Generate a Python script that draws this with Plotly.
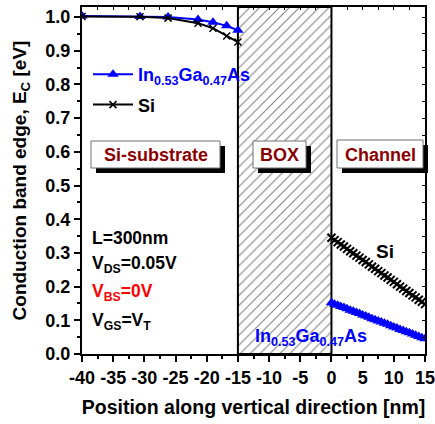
import plotly.graph_objects as go

# ---- data ----
sub_x = [-40, -30.7, -26.2, -21.4, -19.0, -16.8, -15.0]
sub_ingaas = [1.003, 1.002, 1.000, 0.993, 0.985, 0.974, 0.961]
sub_si = [1.002, 1.001, 0.997, 0.982, 0.967, 0.944, 0.926]

ch_x = [0, 0.5, 1, 1.5, 2, 2.5, 3, 3.5, 4, 4.5, 5, 5.5, 6, 6.5, 7, 7.5,
        8, 8.5, 9, 9.5, 10, 10.5, 11, 11.5, 12, 12.5, 13, 13.5, 14, 14.5, 15]
ch_si = [0.345, 0.338, 0.332, 0.325, 0.319, 0.312, 0.305, 0.299, 0.292, 0.286,
         0.279, 0.273, 0.266, 0.259, 0.253, 0.246, 0.240, 0.233, 0.227, 0.220,
         0.214, 0.207, 0.200, 0.194, 0.187, 0.181, 0.174, 0.168, 0.161, 0.155, 0.148]
ch_ingaas = [0.152, 0.148, 0.145, 0.141, 0.138, 0.134, 0.130, 0.127, 0.123, 0.120,
             0.116, 0.113, 0.109, 0.105, 0.102, 0.098, 0.095, 0.091, 0.088, 0.084,
             0.080, 0.077, 0.073, 0.070, 0.066, 0.063, 0.059, 0.056, 0.052, 0.048, 0.045]

box_x = [-15, 0, 0, -15, -15]
box_y = [0, 0, 1.03, 1.03, 0]

x_ticks = [-40, -35, -30, -25, -20, -15, -10, -5, 0, 5, 10, 15]
y_ticks = [0.0, 0.1, 0.2, 0.3, 0.4, 0.5, 0.6, 0.7, 0.8, 0.9, 1.0]

FONT = "Liberation Sans"
BLUE = "#0000FF"
DARKRED = "#8B0000"

fig = go.Figure()

# hatched BOX region
fig.add_trace(go.Scatter(
    x=box_x, y=box_y, mode="lines", fill="toself",
    fillcolor="rgba(255,255,255,0)",
    fillpattern=dict(shape="/", fgcolor="black", bgcolor="white", size=7, solidity=0.15),
    line=dict(color="black", width=2), showlegend=False, hoverinfo="skip"))

fig.add_trace(go.Scatter(
    x=sub_x, y=sub_ingaas, mode="lines+markers", legendgroup="a",
    name="<span style='color:#0000FF'>In<sub>0.53</sub>Ga<sub>0.47</sub>As</span>",
    line=dict(color=BLUE, width=2),
    marker=dict(symbol="triangle-up", size=10, color=BLUE)))
fig.add_trace(go.Scatter(
    x=sub_x, y=sub_si, mode="lines+markers", name="Si", legendgroup="b",
    line=dict(color="black", width=2),
    marker=dict(symbol="x-thin", size=7, color="black", line=dict(color="black", width=1.5))))

fig.add_trace(go.Scatter(
    x=ch_x, y=ch_ingaas, mode="lines+markers", showlegend=False,
    line=dict(color=BLUE, width=2),
    marker=dict(symbol="triangle-up", size=10, color=BLUE)))
fig.add_trace(go.Scatter(
    x=ch_x, y=ch_si, mode="lines+markers", showlegend=False,
    line=dict(color="black", width=2),
    marker=dict(symbol="x-thin", size=8, color="black", line=dict(color="black", width=2))))

# layout geometry (pixels)
L, R, T, B = 82, 10, 7, 70
W, H = 435, 424
PW, PH = W - L - R, H - T - B


def px(xp):
    return (xp - L) / PW


def py(yp):
    return (H - B - yp) / PH


shapes = []
annotations = []

for (x0, x1, y0, y1, label) in [(91, 220, 141, 168, "Si-substrate"),
                                 (253, 306, 141, 168, "BOX"),
                                 (337, 423, 140, 168, "Channel")]:
    shapes.append(dict(type="rect", xref="paper", yref="paper",
                       x0=px(x0 + 5), x1=px(x1 + 5), y0=py(y1 + 5), y1=py(y0 + 5),
                       fillcolor="black", line=dict(width=0), layer="above"))
    shapes.append(dict(type="rect", xref="paper", yref="paper",
                       x0=px(x0), x1=px(x1), y0=py(y1), y1=py(y0),
                       fillcolor="white", line=dict(color="#707070", width=1), layer="above"))
    annotations.append(dict(xref="paper", yref="paper", x=px((x0 + x1) / 2), y=py((y0 + y1) / 2 + 1),
                            xanchor="center", yanchor="middle",
                            text=f"<b>{label}</b>", showarrow=False,
                            font=dict(family=FONT, size=18, color=DARKRED)))

param_lines = [("L=300nm", "black", 238),
               ("V<sub>DS</sub>=0.05V", "black", 264),
               ("V<sub>BS</sub>=0V", "red", 292),
               ("V<sub>GS</sub>=V<sub>T</sub>", "black", 321)]
for txt, col, yy in param_lines:
    annotations.append(dict(xref="paper", yref="paper", x=px(90), y=py(yy),
                            xanchor="left", yanchor="middle",
                            text=f"<b>{txt}</b>", showarrow=False,
                            font=dict(family=FONT, size=17.5, color=col)))

annotations.append(dict(xref="paper", yref="paper", x=px(385), y=py(251),
                        xanchor="center", yanchor="middle",
                        text="<b>Si</b>", showarrow=False,
                        font=dict(family=FONT, size=19, color="black")))
annotations.append(dict(xref="paper", yref="paper", x=px(311), y=py(337),
                        xanchor="center", yanchor="middle",
                        text="<b>In<sub>0.53</sub>Ga<sub>0.47</sub>As</b>", showarrow=False,
                        font=dict(family=FONT, size=18, color=BLUE)))

line_common = dict(showline=True, linecolor="black", linewidth=2, showgrid=False,
                   zeroline=False, ticks="outside", tickwidth=1.5, ticklen=6,
                   tickcolor="black", ticklabeloverflow="allow", automargin=False)

fig.update_layout(
    width=W, height=H,
    margin=dict(l=L, r=R, t=T, b=B, autoexpand=False),
    plot_bgcolor="white", paper_bgcolor="white",
    font=dict(family=FONT, color="black"),
    shapes=shapes, annotations=annotations,
    legend=dict(x=px(88), y=py(56), xanchor="left", yanchor="top",
                bgcolor="rgba(255,255,255,0)",
                font=dict(family=FONT, size=18, color="black", weight="bold"),
                tracegroupgap=4, itemwidth=40),
    xaxis=dict(range=[-40, 15], tickvals=x_ticks, ticktext=[str(v) for v in x_ticks],
               tickfont=dict(family=FONT, size=18, color="black", weight="bold"),
               minor=dict(dtick=2.5, ticks="outside", ticklen=3, tickcolor="black", tickwidth=1.5),
               title=dict(text="<b>Position along vertical direction [nm]</b>",
                          font=dict(family=FONT, size=19.5, color="black"), standoff=14),
               **line_common),
    yaxis=dict(range=[0, 1.03], tickvals=y_ticks, ticktext=[f"{v:.1f}" for v in y_ticks],
               tickfont=dict(family=FONT, size=18, color="black", weight="bold"),
               minor=dict(dtick=0.05, ticks="outside", ticklen=3, tickcolor="black", tickwidth=1.5),
               title=dict(text="<b>Conduction band edge, E<sub>C</sub> [eV]</b>",
                          font=dict(family=FONT, size=19, color="black"), standoff=14),
               **line_common),
    xaxis2=dict(overlaying="x", matches="x", side="top", showticklabels=False,
                showline=True, linecolor="black", linewidth=2, ticks="inside", ticklen=3,
                tickvals=[-37.5, -35, -32.5, -30, -27.5, -25, -22.5, -20, -17.5, -15, -12.5,
                          -10, -7.5, -5, -2.5, 0, 2.5, 5, 7.5, 10, 12.5],
                tickcolor="black", showgrid=False, zeroline=False, automargin=False),
    yaxis2=dict(overlaying="y", matches="y", side="right", showticklabels=False,
                showline=True, linecolor="black", linewidth=2, ticks="inside", ticklen=3,
                tickcolor="black", showgrid=False, zeroline=False, automargin=False,
                tickvals=[0.05, 0.1, 0.15, 0.2, 0.25, 0.3, 0.35, 0.4, 0.45, 0.5, 0.55, 0.6,
                          0.65, 0.7, 0.75, 0.8, 0.85, 0.9, 0.95, 1.0]),
)
# invisible trace so the mirrored top/right axes are drawn
fig.add_trace(go.Scatter(x=[-40], y=[0], xaxis="x2", yaxis="y2", mode="markers",
                         marker=dict(opacity=0), showlegend=False, hoverinfo="skip"))

fig.write_html("out.html")
